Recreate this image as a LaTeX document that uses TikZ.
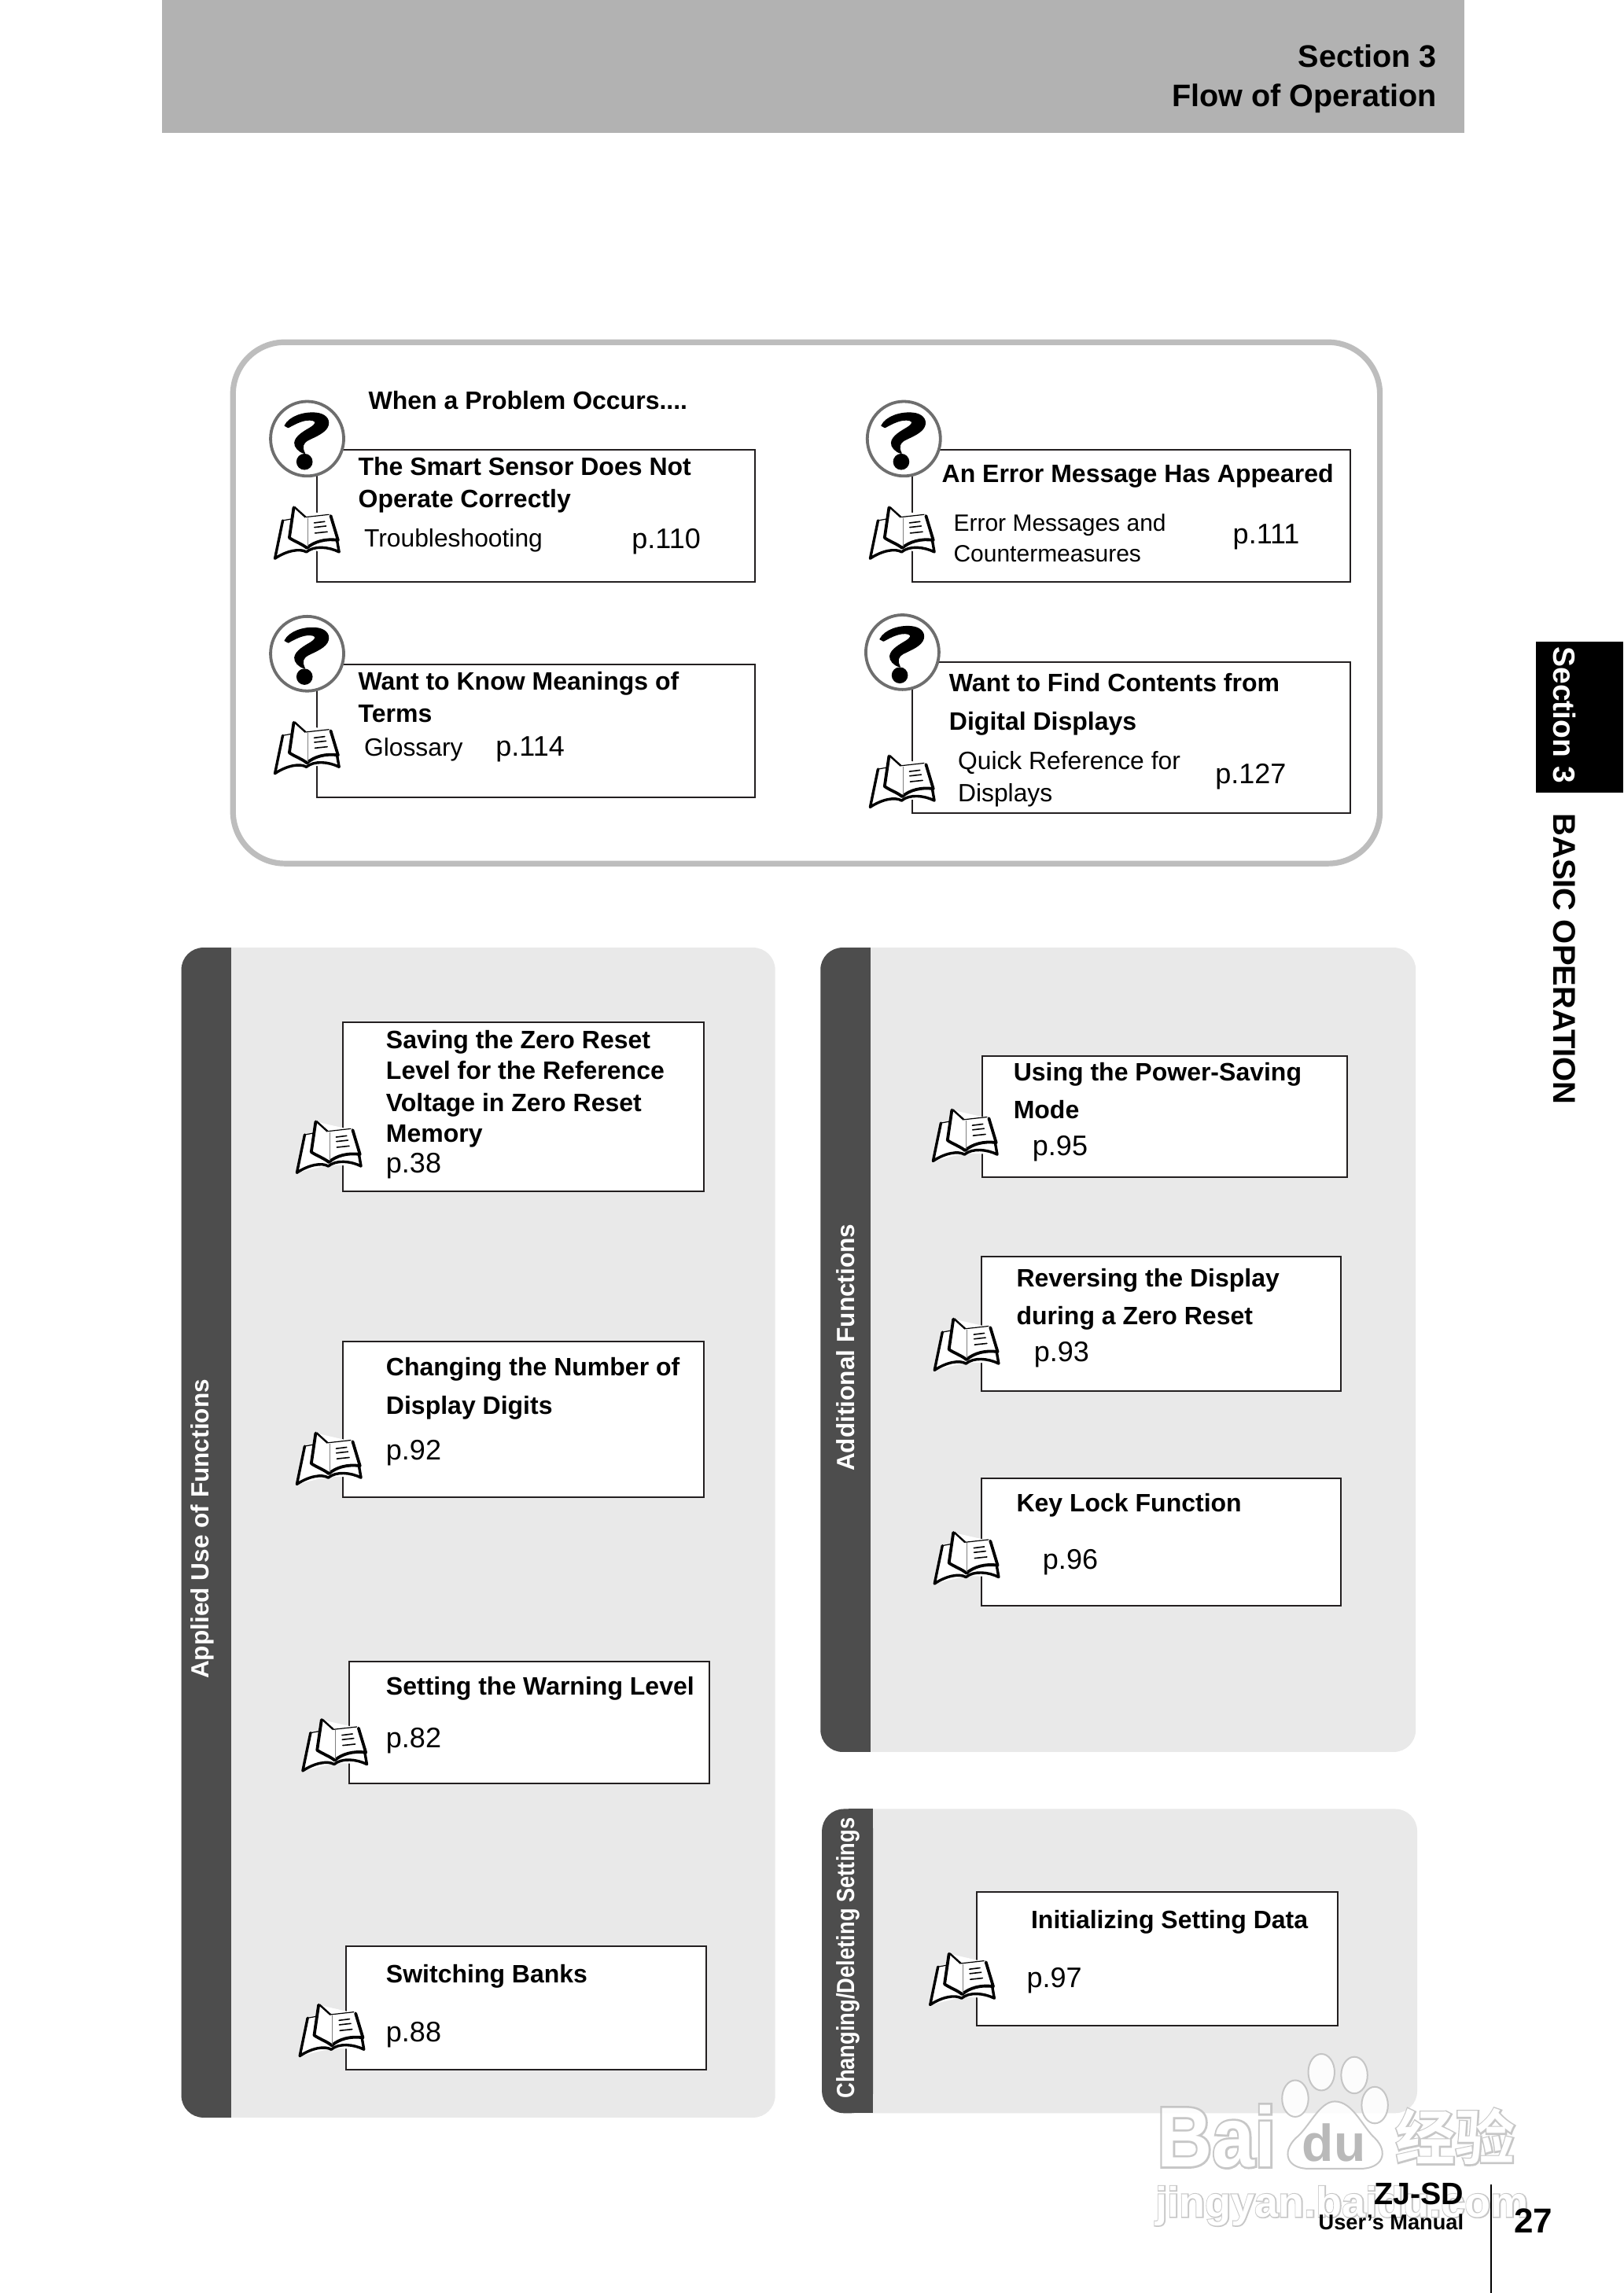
\documentclass[tikz,border=0pt]{standalone}
\usepackage{fontspec}
\setmainfont{Liberation Sans}
\newfontfamily\bdfont{Liberation Sans Bold}
\newfontfamily\wmout[FakeBold=5]{Liberation Sans Bold}
\newfontfamily\wmin{Liberation Sans Bold}
\newfontfamily\cjkout[FakeBold=5]{Noto Sans CJK SC Bold}
\newfontfamily\cjkin{Noto Sans CJK SC Bold}
\definecolor{hdrgray}{HTML}{B2B2B2}
\definecolor{pnl}{HTML}{E9E9E9}
\definecolor{strip}{HTML}{4D4D4D}
\definecolor{frm}{HTML}{BDBDBD}
\definecolor{ink}{HTML}{231F20}
\definecolor{ring}{HTML}{6E6E6E}
\tikzset{
  x=0.92973pt,y=-0.92973pt,
  boxline/.style={draw=ink,line width=1pt,fill=white},
  head/.style={anchor=base west,inner sep=0,outer sep=0,font=\bdfont\fontsize{16pt}{18pt}\selectfont,text=black},
  small/.style={anchor=base west,inner sep=0,outer sep=0,font=\fontsize{15.9pt}{18pt}\selectfont,text=black},
  smaller/.style={anchor=base west,inner sep=0,outer sep=0,font=\fontsize{15pt}{18pt}\selectfont,text=black},
  page/.style={anchor=base west,inner sep=0,outer sep=0,font=\fontsize{18pt}{20pt}\selectfont,text=black},
  vert/.style={anchor=base west,rotate=90,inner sep=0,outer sep=0,text=white,font=\bdfont\fontsize{15.8pt}{18pt}\selectfont},
  bookpage/.style={fill=white,draw=black,line join=round,line cap=round},
  booklines/.style={draw=black,line width=.8pt,line cap=round},
  pics/book/.style={code={
    \begin{scope}[x=0.1665pt,y=-0.1665pt,xshift=-0.5pt,shift={(-235,-235)}]
      \path[fill=white] (115,335) -- (145,190) -- (335,165) -- (362,310) -- (240,305) -- cycle;
      \draw[bookpage,line width=1.7pt] (145,190) -- (115,335) .. controls (160,305) and (210,295) .. (235,310) .. controls (265,285) and (320,290) .. (360,310) -- (352,265);
      \draw[draw=black,line width=.6pt] (145,190) -- (178,184);
      \path[fill=white] (187,138) -- (235,178) -- (325,168) -- (356,265) .. controls (320,255) and (265,265) .. (238,292) .. controls (215,270) and (190,265) .. (170,256) -- cycle;
      \draw[bookpage,line width=1.9pt] (187,140) -- (170,256) .. controls (190,270) and (220,280) .. (237,295) .. controls (265,270) and (310,258) .. (356,265) -- (328,172);
      \draw[draw=black,line width=1.2pt] (190,139) -- (232,177);
      \draw[draw=black,line width=.6pt] (232,177) -- (322,167);
      \draw[draw=gray,line width=.5pt] (240,180) -- (240,290);
      \draw[booklines] (265,199) -- (305,194);
      \draw[booklines] (266,216) -- (310,211);
      \draw[booklines] (268,238) -- (315,233);
    \end{scope}}},
  pics/qmark/.style={code={
    \draw[draw=ring,line width=1.9pt,fill=white] (0,0) ellipse [x radius=25,y radius=25.5];
    \begin{scope}[x=0.1665pt,y=-0.1665pt,shift={(-182,-170)}]
      \filldraw[black,line width=.7pt,line join=round] (97,120) .. controls (115,85) and (170,68) .. (215,72) .. controls (250,75) and (268,95) .. (262,118) .. controls (255,145) and (215,160) .. (185,175) .. controls (165,187) and (160,200) .. (172,225) .. controls (150,220) and (133,200) .. (135,185) .. controls (137,160) and (175,140) .. (195,128) .. controls (215,115) and (220,105) .. (205,100) .. controls (175,92) and (140,110) .. (110,127) -- cycle;
      \fill[black] (172,258) circle [radius=31];
    \end{scope}
  }},
}
\newcommand{\bx}[5]{\draw[boxline] (#2,#3) rectangle (#4,#5) coordinate (#1);}
\begin{document}
\begin{tikzpicture}
\useasboundingbox (0,0) rectangle (1110,1568);
\fill[white] (0,0) rectangle (1110,1568);
% header
\fill[hdrgray] (111,0) rectangle (1001,91);
\node[anchor=base east,inner sep=0,font=\bdfont\fontsize{19.8pt}{22pt}\selectfont] (s3) at (982.5,46) {Section 3};
\node[anchor=base east,inner sep=0,font=\bdfont\fontsize{19.8pt}{22pt}\selectfont] (flow) at (982.5,73) {Flow of Operation};
% side tab
\fill[black] (1050,439) rectangle (1110,542);
\node[anchor=base west,rotate=-90,inner sep=0,text=white,font=\bdfont\fontsize{19.5pt}{20pt}\selectfont] (tab) at (1062.5,442) {Section 3};
\node[anchor=base west,rotate=-90,inner sep=0,text=black,font=\bdfont\fontsize{20pt}{20pt}\selectfont] (basic) at (1062.5,556) {BASIC OPERATION};
% problem frame
\draw[draw=frm,line width=3.6pt,fill=white] (159.3,234) [rounded corners=33] rectangle (943.5,590.5);
\node[head] (w) at (252,280) {When a Problem Occurs....};
\bx{ba}{216.5}{307.5}{516}{398}
\bx{bb}{623.5}{307.5}{923}{398}
\bx{bc}{216.5}{454.5}{516}{545}
\bx{bd}{623.5}{453}{923}{556}
\pic at (210,300) {qmark};
\pic at (618,300) {qmark};
\pic at (210,447) {qmark};
\pic at (617,446) {qmark};
\pic at (210,364) {book};
\pic at (617,364) {book};
\pic at (210,511) {book};
\pic at (617,534) {book};
\node[head] (a1) at (245,325) {The Smart Sensor Does Not};
\node[head] (a2) at (245,347) {Operate Correctly};
\node[small] (a3) at (249,374) {Troubleshooting};
\node[page] (a4) at (432,375) {p.110};
\node[head] (b1) at (644,330) {An Error Message Has Appeared};
\node[smaller] (b2) at (652,363) {Error Messages and};
\node[smaller] (b3) at (652,384) {Countermeasures};
\node[page] (b4) at (843,372) {p.111};
\node[head] (c1) at (245,472) {Want to Know Meanings of};
\node[head] (c2) at (245,494) {Terms};
\node[small] (c3) at (249,517) {Glossary};
\node[page] (c4) at (339,517) {p.114};
\node[head] (d1) at (649,473) {Want to Find Contents from};
\node[head] (d2) at (649,499) {Digital Displays};
\node[small] (d3) at (655,526) {Quick Reference for};
\node[small] (d4) at (655,548) {Displays};
\node[page] (d5) at (831,536) {p.127};
% panels
\fill[pnl,rounded corners=14] (124,648) rectangle (530,1448);
\fill[strip,rounded corners=14] (124,648) -- (158,648) -- (158,1448) -- (124,1448) -- cycle;
\fill[strip] (140,648) rectangle (158,1448);
\fill[pnl,rounded corners=14] (561,648) rectangle (968,1198);
\fill[strip,rounded corners=14] (561,648) -- (595,648) -- (595,1198) -- (561,1198) -- cycle;
\fill[strip] (580,648) rectangle (595,1198);
\fill[pnl,rounded corners=14] (562,1237) rectangle (969,1445);
\fill[strip,rounded corners=14] (562,1237) -- (597,1237) -- (597,1445) -- (562,1445) -- cycle;
\fill[strip] (580,1237) rectangle (597,1445);
\node[vert] (v1) at (143,1148) {Applied Use of Functions};
\node[vert] (v2) at (584,1006) {Additional Functions};
\node[vert,xscale=.865] (v3) at (584,1435) {Changing/Deleting Settings};
% boxes
\bx{p1}{234.5}{699}{481}{814.5}
\bx{p2}{234.5}{917.5}{481}{1024}
\bx{p3}{238.5}{1136}{485}{1219.5}
\bx{p4}{236.5}{1331}{483}{1415}
\bx{p5}{671.5}{722}{921}{805}
\bx{p6}{671}{859}{917}{951}
\bx{p7}{671}{1011}{917}{1098}
\bx{p8}{668}{1294}{914.5}{1385}
\pic at (225,784) {book};
\pic at (225,997) {book};
\pic at (229,1193) {book};
\pic at (227,1388) {book};
\pic at (660,776) {book};
\pic at (661,919) {book};
\pic at (661,1065) {book};
\pic at (658,1353) {book};
\node[head] (e1) at (264,717) {Saving the Zero Reset};
\node[head] (e2) at (264,738) {Level for the Reference};
\node[head] (e3) at (264,760) {Voltage in Zero Reset};
\node[head] (e4) at (264,781) {Memory};
\node[page] (e5) at (264,802) {p.38};
\node[head] (f1) at (264,941) {Changing the Number of};
\node[head] (f2) at (264,967) {Display Digits};
\node[page] (f3) at (264,998) {p.92};
\node[head] (g1) at (264,1159) {Setting the Warning Level};
\node[page] (g2) at (264,1195) {p.82};
\node[head] (h1) at (264,1356) {Switching Banks};
\node[page] (h2) at (264,1396) {p.88};
\node[head] (i1) at (693,739) {Using the Power-Saving};
\node[head] (i2) at (693,765) {Mode};
\node[page] (i3) at (706,790) {p.95};
\node[head] (j1) at (695,880) {Reversing the Display};
\node[head] (j2) at (695,906) {during a Zero Reset};
\node[page] (j3) at (707,931) {p.93};
\node[head] (k1) at (695,1034) {Key Lock Function};
\node[page] (k2) at (713,1073) {p.96};
\node[head] (l1) at (705,1319) {Initializing Setting Data};
\node[page] (l2) at (702,1359) {p.97};
% watermark
\begin{scope}[opacity=.9,transparency group]
  \node[anchor=base west,xscale=.9,inner sep=0,text=black!24,font=\wmout\fontsize{54pt}{60pt}\selectfont] (wa) at (791,1481.5) {Bai};
  \node[anchor=base west,xscale=.9,inner sep=0,text=white,font=\wmin\fontsize{54pt}{60pt}\selectfont] (wb) at (791,1481.5) {Bai};
  \filldraw[fill=white,draw=black!24,line width=1pt] (903.5,1417) ellipse [x radius=9,y radius=12.5];
  \filldraw[fill=white,draw=black!24,line width=1pt] (926,1419) ellipse [x radius=9,y radius=12.5];
  \filldraw[fill=white,draw=black!24,line width=1pt] (885.6,1435) ellipse [x radius=9,y radius=12.5];
  \filldraw[fill=white,draw=black!24,line width=1pt] (940,1439.5) ellipse [x radius=9,y radius=12.5];
  \filldraw[fill=white,draw=black!24,line width=1pt] (912.7,1437) .. controls (925,1437) and (932,1455) .. (940,1462) .. controls (950,1472) and (945,1483) .. (930,1483) -- (895,1483) .. controls (880,1483) and (876,1472) .. (886,1462) .. controls (895,1455) and (902,1437) .. (912.7,1437) -- cycle;
  \node[anchor=base,inner sep=0,text=black!30,font=\wmin\fontsize{33pt}{36pt}\selectfont] (wc) at (912,1478) {du};
  \node[anchor=base west,inner sep=0,text=black!24,font=\cjkout\fontsize{38pt}{40pt}\selectfont] (wd) at (954,1477) {经验};
  \node[anchor=base west,inner sep=0,text=white,font=\cjkin\fontsize{38pt}{40pt}\selectfont] (we) at (954,1477) {经验};
  \node[anchor=base west,inner sep=0,text=black!24,font=\wmout\fontsize{27pt}{32pt}\selectfont] (wf) at (790,1516) {jingyan.baidu.com};
  \node[anchor=base west,inner sep=0,text=white,font=\wmin\fontsize{27pt}{32pt}\selectfont] (wg) at (790,1516) {jingyan.baidu.com};
\end{scope}
% footer
\node[anchor=base east,inner sep=0,font=\bdfont\fontsize{19.7pt}{20pt}\selectfont] (zj) at (1001,1507.5) {ZJ-SD};
\node[anchor=base east,inner sep=0,font=\bdfont\fontsize{13.6pt}{15pt}\selectfont] (um) at (1001,1524.6) {User’s Manual};
\draw[black,line width=.9pt] (1019.7,1494) -- (1019.7,1568);
\node[anchor=base,inner sep=0,font=\bdfont\fontsize{22pt}{22pt}\selectfont] (pg) at (1048.5,1527) {27};
\end{tikzpicture}
\end{document}
